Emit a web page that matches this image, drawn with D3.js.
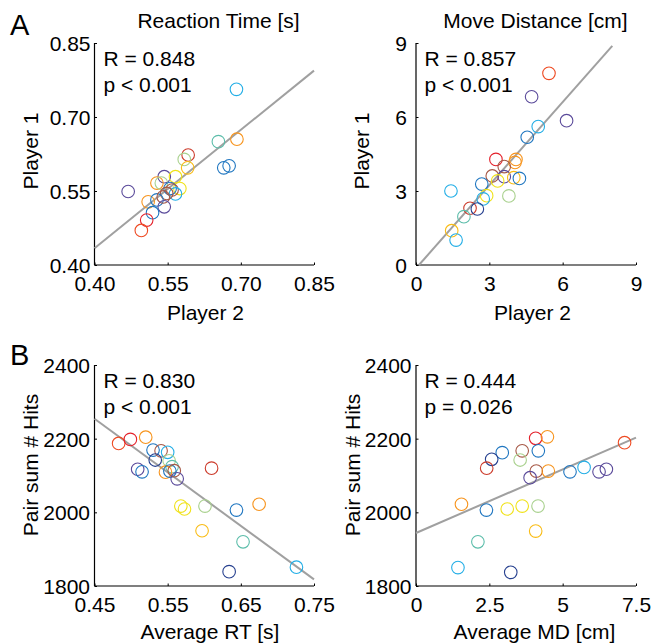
<!DOCTYPE html>
<html>
<head>
<meta charset="utf-8">
<script src="https://cdn.jsdelivr.net/npm/d3@7"></script>
<style>
  body { margin: 0; background: #fff; }
  svg text { font-family: "Liberation Sans", Arial, Helvetica, sans-serif; fill: #000; }
</style>
</head>
<body>
<svg width="666" height="644"></svg>
<script>
const palette = {
  red: "#e4202a", orangered: "#ee4a22", orange: "#f7941d", gold: "#f9bc15",
  yellow: "#f0e21a", lightgreen: "#a9d18e", teal: "#5cbdaa", cyan: "#23aee6",
  blue: "#1f76c0", darkblue: "#26408f", purple: "#5a4a9a", brown: "#a65846",
  redbrown: "#cc3b2b"
};

// Reaction time, player 2 (x) vs player 1 (y)
const rtX = [0.691, 0.692, 0.654, 0.592, 0.584, 0.591, 0.676, 0.665, 0.543, 0.566, 0.528, 0.537, 0.575,
  0.469, 0.555, 0.559, 0.566, 0.548, 0.510, 0.528, 0.541, 0.543, 0.519, 0.507, 0.496];
const rtY = [0.756, 0.655, 0.650, 0.623, 0.614, 0.597, 0.601, 0.597, 0.579, 0.579, 0.566, 0.566, 0.555,
  0.549, 0.555, 0.552, 0.544, 0.545, 0.528, 0.532, 0.538, 0.518, 0.506, 0.491, 0.470];
const rtColors = ["cyan", "orange", "teal", "redbrown", "lightgreen", "gold", "blue", "blue", "purple",
  "yellow", "orange", "lightgreen", "yellow", "purple", "blue", "brown", "cyan", "brown", "orange",
  "blue", "brown", "purple", "blue", "red", "orangered"];

// Move distance, player 2 (x) vs player 1 (y)
const mdX = [5.44, 4.73, 6.16, 5.00, 4.55, 3.27, 4.09, 4.05, 3.61, 3.12, 3.61, 3.34, 4.00, 4.23, 2.69,
  1.43, 2.89, 2.75, 3.80, 2.21, 2.51, 1.96, 1.46, 1.64];
const mdY = [7.77, 6.82, 5.85, 5.61, 5.18, 4.28, 4.28, 4.16, 3.99, 3.61, 3.58, 3.41, 3.54, 3.51, 3.28,
  3.00, 2.81, 2.68, 2.80, 2.30, 2.27, 1.96, 1.39, 1.01];
const mdColors = ["orangered", "purple", "purple", "cyan", "blue", "red", "orange", "orange", "brown",
  "brown", "purple", "yellow", "gold", "blue", "blue", "cyan", "yellow", "cyan", "lightgreen",
  "redbrown", "darkblue", "teal", "gold", "cyan"];

// Pair sum of hits vs average RT
const hitsRtX = [0.483, 0.499, 0.520, 0.530, 0.541, 0.550, 0.533, 0.552, 0.556, 0.509, 0.515, 0.547,
  0.553, 0.559, 0.563, 0.610, 0.568, 0.573, 0.601, 0.644, 0.675, 0.597, 0.653, 0.634, 0.726];
const hitsRtY = [2187, 2198, 2204, 2169, 2167, 2163, 2142, 2140, 2124, 2117, 2110, 2109, 2112, 2113,
  2091, 2120, 2017, 2009, 2017, 2006, 2022, 1950, 1920, 1839, 1851];
const hitsRtColors = ["orangered", "red", "orange", "blue", "brown", "cyan", "darkblue", "lightgreen",
  "teal", "purple", "blue", "orange", "blue", "brown", "purple", "redbrown", "yellow", "yellow",
  "lightgreen", "blue", "orange", "gold", "teal", "darkblue", "cyan"];

// Pair sum of hits vs average MD
const hitsMdX = [7.11, 4.08, 4.48, 4.17, 3.62, 2.94, 2.58, 3.55, 2.41, 4.10, 4.51, 3.89, 5.25, 5.73,
  6.24, 6.49, 1.55, 2.40, 3.11, 3.62, 4.16, 4.08, 2.11, 1.43, 3.23];
const hitsMdY = [2189, 2201, 2205, 2167, 2167, 2162, 2144, 2142, 2120, 2112, 2112, 2094, 2110, 2122,
  2110, 2117, 2022, 2006, 2009, 2017, 2017, 1949, 1920, 1850, 1837];
const hitsMdColors = ["orangered", "red", "orange", "blue", "brown", "blue", "darkblue", "lightgreen",
  "redbrown", "brown", "orange", "purple", "blue", "cyan", "purple", "purple", "orange", "blue",
  "yellow", "yellow", "lightgreen", "gold", "teal", "cyan", "darkblue"];

// regression lines (end points)
const rtFit = [[0.40, 0.434], [0.85, 0.794]];
const mdFit = [[0.12, 0], [8.03, 8.88]];
const hitsRtFit = [[0.45, 2254], [0.75, 1818]];
const hitsMdFit = [[0, 1944], [7.5, 2203]];

const rtTicks = [0.40, 0.55, 0.70, 0.85];
const mdTicks = [0, 3, 6, 9];
const hitsTicks = [1800, 2000, 2200, 2400];
const avgRtTicks = [0.45, 0.55, 0.65, 0.75];
const avgMdTicks = [0, 2.5, 5, 7.5];

const stats = [["R = 0.848", "p < 0.001"], ["R = 0.857", "p < 0.001"],
  ["R = 0.830", "p < 0.001"], ["R = 0.444", "p = 0.026"]];

const svg = d3.select("svg");
const fs = "21px";

function panel(opt) {
  const g = svg.append("g").attr("transform", `translate(${opt.left},${opt.top})`);
  const w = opt.w, h = opt.h;

  const x = d3.scaleLinear().domain(d3.extent(opt.xTicks)).range([0, w]);
  const y = d3.scaleLinear().domain(d3.extent(opt.yTicks)).range([h, 0]);

  const xAxis = g.append("g")
    .attr("transform", `translate(0,${h})`)
    .call(d3.axisBottom(x).tickValues(opt.xTicks).tickSize(-2.5).tickPadding(0).tickFormat(opt.fmtX));
  const yAxis = g.append("g")
    .call(d3.axisLeft(y).tickValues(opt.yTicks).tickSize(-2.5).tickPadding(0).tickFormat(opt.fmtY));

  [xAxis, yAxis].forEach(a => {
    a.select(".domain").attr("stroke", "#000").attr("stroke-width", 1.2);
    a.selectAll(".tick line").attr("stroke", "#000");
    a.selectAll("text").style("font-size", fs).attr("fill", "#000");
  });
  // just the axis line, no outer ticks
  xAxis.select(".domain").attr("d", `M0,0H${w}`);
  yAxis.select(".domain").attr("d", `M0,0V${h}`);

  xAxis.selectAll(".tick text").attr("y", 26).attr("dy", null);
  yAxis.selectAll(".tick text").attr("x", -opt.yGap).attr("dy", "0.36em");

  const line = d3.line().x(d => x(d[0])).y(d => y(d[1]));
  g.append("path")
    .attr("d", line(opt.fit))
    .attr("fill", "none")
    .attr("stroke", "#a0a0a0")
    .attr("stroke-width", 2);

  g.selectAll("circle")
    .data(opt.xs.map((v, i) => ({ x: v, y: opt.ys[i], c: opt.colors[i] })))
    .join("circle")
    .attr("cx", d => x(d.x))
    .attr("cy", d => y(d.y))
    .attr("r", 6.3)
    .attr("fill", "none")
    .attr("stroke", d => palette[d.c])
    .attr("stroke-width", 1.1);

  const st = g.append("text").style("font-size", fs);
  st.append("tspan").attr("x", opt.statX).attr("y", 23).text(opt.stats[0]);
  st.append("tspan").attr("x", opt.statX).attr("y", 49).text(opt.stats[1]);

  if (opt.title) {
    g.append("text")
      .attr("x", opt.titleX).attr("y", -15)
      .attr("text-anchor", "middle")
      .style("font-size", fs)
      .text(opt.title);
  }

  g.append("text")
    .attr("x", opt.xLabelX).attr("y", h + opt.xLabelDy)
    .attr("text-anchor", "middle")
    .style("font-size", fs)
    .text(opt.xLabel);

  g.append("text")
    .attr("transform", `translate(${opt.yLabelX},${opt.yLabelY}) rotate(-90)`)
    .attr("text-anchor", "middle")
    .style("font-size", fs)
    .text(opt.yLabel);
}

const f2 = d3.format(".2f");

panel({
  left: 94.5, top: 43, w: 219.5, h: 222,
  xTicks: rtTicks, yTicks: rtTicks, fmtX: f2, fmtY: f2, yGap: 4,
  xs: rtX, ys: rtY, colors: rtColors, fit: rtFit, stats: stats[0], statX: 9,
  title: "Reaction Time [s]", titleX: 124,
  xLabel: "Player 2", xLabelX: 111, xLabelDy: 55,
  yLabel: "Player 1", yLabelX: -57, yLabelY: 108
});

panel({
  left: 416, top: 43, w: 220, h: 222,
  xTicks: mdTicks, yTicks: mdTicks, fmtX: d3.format("d"), fmtY: d3.format("d"), yGap: 9,
  xs: mdX, ys: mdY, colors: mdColors, fit: mdFit, stats: stats[1], statX: 8.5,
  title: "Move Distance [cm]", titleX: 119.5,
  xLabel: "Player 2", xLabelX: 116.5, xLabelDy: 55,
  yLabel: "Player 1", yLabelX: -47, yLabelY: 108
});

panel({
  left: 94.5, top: 365, w: 219.5, h: 221,
  xTicks: avgRtTicks, yTicks: hitsTicks, fmtX: f2, fmtY: d3.format("d"), yGap: 4.5,
  xs: hitsRtX, ys: hitsRtY, colors: hitsRtColors, fit: hitsRtFit, stats: stats[2], statX: 9,
  xLabel: "Average RT [s]", xLabelX: 115.5, xLabelDy: 53,
  yLabel: "Pair sum # Hits", yLabelX: -57, yLabelY: 100
});

panel({
  left: 416, top: 365, w: 220, h: 221,
  xTicks: avgMdTicks, yTicks: hitsTicks, fmtX: d3.format("~g"), fmtY: d3.format("d"), yGap: 4.5,
  xs: hitsMdX, ys: hitsMdY, colors: hitsMdColors, fit: hitsMdFit, stats: stats[3], statX: 8.5,
  xLabel: "Average MD [cm]", xLabelX: 118.5, xLabelDy: 53,
  yLabel: "Pair sum # Hits", yLabelX: -56.5, yLabelY: 100
});

svg.append("text").attr("x", 10).attr("y", 35).style("font-size", "29px").text("A");
svg.append("text").attr("x", 10).attr("y", 365).style("font-size", "29px").text("B");
</script>
</body>
</html>
